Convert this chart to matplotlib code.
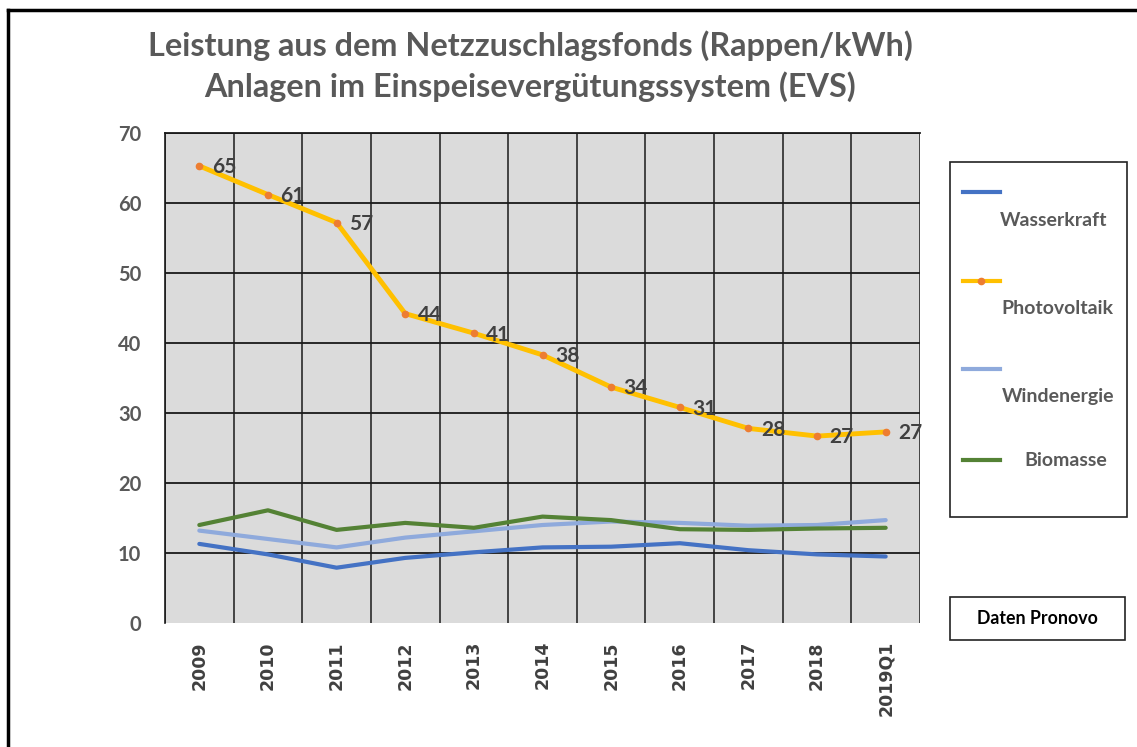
import numpy as np
import matplotlib.pyplot as plt
from matplotlib.lines import Line2D
from matplotlib.patches import Rectangle

# values (Rappen/kWh)
jahre = ['2009', '2010', '2011', '2012', '2013', '2014', '2015', '2016', '2017', '2018', '2019Q1']
wasserkraft = [11.3, 9.8, 7.9, 9.3, 10.1, 10.8, 10.9, 11.4, 10.4, 9.8, 9.5]
photovoltaik = [65.3, 61.2, 57.2, 44.2, 41.4, 38.3, 33.7, 30.8, 27.8, 26.7, 27.3]
windenergie = [13.2, 12.0, 10.8, 12.2, 13.1, 14.0, 14.5, 14.3, 13.9, 14.0, 14.7]
biomasse = [14.0, 16.1, 13.3, 14.3, 13.6, 15.2, 14.7, 13.4, 13.3, 13.5, 13.6]

titel = 'Leistung aus dem Netzzuschlagsfonds (Rappen/kWh)\nAnlagen im Einspeisevergütungssystem (EVS)'
quelle = 'Daten Pronovo'

col_wk = '#4472C4'
col_pv = '#FFC000'
col_pv_m = '#ED7D31'
col_we = '#8FAADC'
col_bm = '#548235'
grau = '#595959'

fig = plt.figure(figsize=(11.37, 7.47), dpi=100)
ax = fig.add_axes([165/1137, 1 - 623/747, 755/1137, 490/747])
ax.set_facecolor('#DBDBDB')

x = np.arange(len(jahre))
ax.plot(x, wasserkraft, color=col_wk, lw=3, solid_capstyle='round', zorder=3)
ax.plot(x, windenergie, color=col_we, lw=3, solid_capstyle='round', zorder=3)
ax.plot(x, biomasse, color=col_bm, lw=3, solid_capstyle='round', zorder=4)
ax.plot(x, photovoltaik, color=col_pv, lw=3.5, marker='o', ms=4.5,
        mfc=col_pv_m, mec=col_pv_m, zorder=5)

for xi, v in zip(x, photovoltaik):
    ax.annotate(f'{v:.0f}', (xi, v), xytext=(9, -1), textcoords='offset points',
                ha='left', va='center', fontsize=15, fontweight='bold',
                color='#404040', family='Lato', zorder=6)

ax.set_xlim(-0.5, len(jahre) - 0.5)
ax.set_ylim(0, 70)
ax.set_xticks(x)
ax.set_xticklabels(jahre, rotation=90, fontsize=12.5, fontweight='bold', color='#404040')
ax.set_xticks(np.arange(len(jahre) + 1) - 0.5, minor=True)
ax.set_yticks(np.arange(0, 71, 10))
ax.set_yticklabels([str(v) for v in range(0, 71, 10)], fontsize=14.5,
                   fontweight='bold', color=grau, family='Lato')
ax.tick_params(axis='both', which='both', length=0)
ax.tick_params(axis='y', pad=17)
ax.tick_params(axis='x', pad=13)

ax.grid(axis='y', which='major', color='#1a1a1a', lw=1.3, zorder=1)
ax.grid(axis='x', which='minor', color='#1a1a1a', lw=1.1, zorder=1)
ax.yaxis.get_gridlines()[0].set_visible(False)
ax.set_axisbelow(True)
for s in ['right', 'bottom']:
    ax.spines[s].set_visible(False)
ax.spines['left'].set_color('#1a1a1a')
ax.spines['top'].set_color('#1a1a1a')
ax.spines['left'].set_linewidth(1.2)
ax.spines['top'].set_linewidth(1.3)

fig.text(530/1137, 1 - 66/747, titel, ha='center', va='center', fontsize=23.3,
         fontweight='bold', color=grau, family='Lato', linespacing=1.4)

# legend box drawn by hand to match the stacked layout
fig.patches.append(Rectangle((950/1137, 1 - 517/747), 177/1137, 355/747,
                             transform=fig.transFigure, fc='white', ec='#222222', lw=1.2))
eintraege = [('Wasserkraft', col_wk, False, 192, 220, 1054),
             ('Photovoltaik', col_pv, True, 281, 308, 1057),
             ('Windenergie', col_we, False, 369, 397, 1058),
             ('Biomasse', col_bm, False, 460, 460, 1066)]
for name, c, mk, ly, ty, tx in eintraege:
    fig.lines.append(Line2D([963/1137, 1000/1137], [1 - ly/747] * 2, transform=fig.transFigure,
                            color=c, lw=3))
    if mk:
        fig.lines.append(Line2D([981/1137], [1 - ly/747], transform=fig.transFigure,
                                marker='o', ms=4.5, color=col_pv_m, lw=0))
    fig.text(tx/1137, 1 - ty/747, name, ha='center', va='center', fontsize=14,
             fontweight='bold', color=grau, family='Lato')

fig.patches.append(Rectangle((950/1137, 1 - 640/747), 175/1137, 43/747,
                             transform=fig.transFigure, fc='white', ec='#222222', lw=1.2))
fig.text(1037/1137, 1 - 618/747, quelle, ha='center', va='center', fontsize=12.8,
         fontweight='bold', color='black', family='Lato')

# outer frame (top and left edges)
fig.lines.append(Line2D([8/1137, 1], [1 - 10/747] * 2, transform=fig.transFigure, color='black', lw=2.5))
fig.lines.append(Line2D([8/1137] * 2, [0, 1 - 10/747], transform=fig.transFigure, color='black', lw=2.5))

fig.savefig('out.png', dpi=100)
